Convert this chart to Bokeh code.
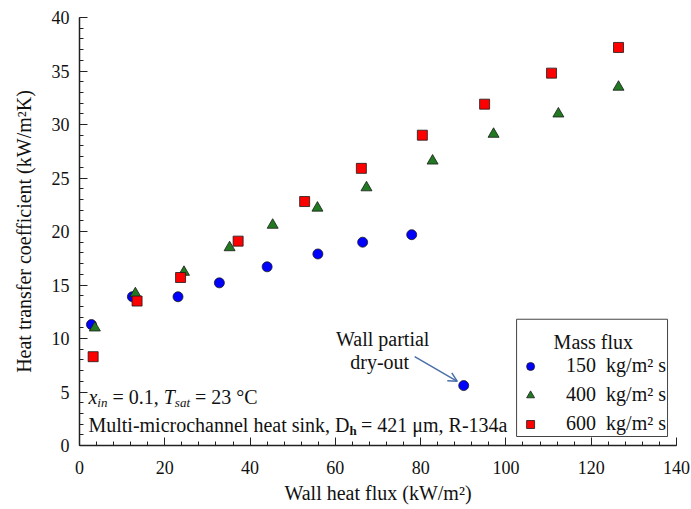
from bokeh.plotting import figure
from bokeh.models import (Range1d, FixedTicker, Label, Arrow, OpenHead,
                          BoxAnnotation, Legend, LegendItem)
from bokeh.embed import file_html
from bokeh.resources import INLINE

# ---- data ----
q150 = [2.8, 12.4, 23.1, 32.8, 44.0, 55.9, 66.4, 77.9, 90.1]
h150 = [11.3, 13.9, 13.9, 15.2, 16.7, 17.9, 19.0, 19.7, 5.6]
q400 = [3.6, 13.1, 24.5, 35.2, 45.3, 55.8, 67.3, 82.8, 97.1, 112.3, 126.4]
h400 = [11.0, 14.2, 16.2, 18.5, 20.6, 22.2, 24.1, 26.6, 29.1, 31.0, 33.5]
q600 = [3.2, 13.5, 23.7, 37.2, 52.8, 66.1, 80.4, 95.0, 110.7, 126.4]
h600 = [8.3, 13.5, 15.7, 19.1, 22.8, 25.9, 29.0, 31.9, 34.8, 37.2]
mass_flux = ["150", "400", "600"]
x_ticks = [0, 20, 40, 60, 80, 100, 120, 140]
y_ticks = [0, 5, 10, 15, 20, 25, 30, 35, 40]

FONT = "'Liberation Serif'"
NB = "\u00a0"

p = figure(width=691, height=509, output_backend="svg", toolbar_location=None,
           x_range=Range1d(0, 140), y_range=Range1d(0, 40),
           min_border_left=79, min_border_right=15, min_border_top=17,
           min_border_bottom=64)
p.outline_line_color = None
p.grid.visible = False
p.background_fill_color = "white"
p.border_fill_color = "white"

p.xaxis.ticker = FixedTicker(ticks=x_ticks, minor_ticks=[i * 4 for i in range(36)])
p.yaxis.ticker = FixedTicker(ticks=y_ticks, minor_ticks=list(range(41)))
for ax in (p.xaxis[0], p.yaxis[0]):
    ax.axis_line_color = "#222222"
    ax.axis_line_width = 1.5
    ax.major_tick_line_color = "#222222"
    ax.minor_tick_line_color = "#222222"
    ax.major_tick_in = 8
    ax.major_tick_out = 0
    ax.minor_tick_in = 4
    ax.minor_tick_out = 0
    ax.major_label_text_font = FONT
    ax.major_label_text_font_size = "18px"
    ax.major_label_text_color = "#111111"
    ax.axis_label_text_font = FONT
    ax.axis_label_text_font_size = "20px"
    ax.axis_label_text_font_style = "normal"
    ax.axis_label_text_color = "#111111"

p.xaxis.axis_label = "Wall heat flux (kW/m²)"
p.yaxis.axis_label = "Heat transfer coefficient (kW/m²K)"
p.xaxis.major_label_standoff = 15
p.xaxis.axis_label_standoff = 5
p.yaxis.major_label_standoff = 10
p.yaxis.axis_label_standoff = 14

r150 = p.scatter(q150, h150, marker="circle", size=10, fill_color="#0000ff",
                 line_color="#1a1a1a", line_width=0.8)
r400 = p.scatter(q400, h400, marker="triangle", size=11, fill_color="#217a21",
                 line_color="#1a1a1a", line_width=0.8)
r600 = p.scatter(q600, h600, marker="square", size=10, fill_color="#ff0000",
                 line_color="#1a1a1a", line_width=0.8)

# legend box + title
box = BoxAnnotation(left=102.5, right=137.9, bottom=0.84, top=11.8,
                    fill_color=None, fill_alpha=0, line_color="#444444",
                    line_width=1, line_alpha=1)
p.add_layout(box)
p.add_layout(Label(x=120.5, y=9.7, text="Mass flux", text_font=FONT,
                   text_font_size="20px", text_align="center",
                   text_baseline="alphabetic", text_color="#111111"))

items = [LegendItem(label=f"{m}{NB}{NB}kg/m²{NB}s", renderers=[r])
         for m, r in zip(mass_flux, [r150, r400, r600])]
legend = Legend(items=items, location="bottom_right", margin=10, padding=5,
                spacing=6, label_height=20, glyph_height=20, glyph_width=20,
                label_standoff=26, label_text_font=FONT,
                label_text_font_size="20px", label_text_color="#111111",
                border_line_color=None, background_fill_alpha=0)
p.add_layout(legend)

# annotation: wall partial dry-out
p.add_layout(Label(x=71.1, y=8.97, text="Wall partial", text_font=FONT,
                   text_font_size="20px", text_align="center", text_color="#111111"))
p.add_layout(Label(x=70.4, y=6.8, text="dry-out", text_font=FONT,
                   text_font_size="20px", text_align="center", text_color="#111111"))
p.add_layout(Arrow(x_start=78.6, y_start=8.3, x_end=88.6, y_end=6.0,
                   line_color="#4a70a8", line_width=1.5,
                   end=OpenHead(size=9, line_color="#4a70a8", line_width=1.5)))

# condition text with subscripts
W_REG = {' ': 250, NB: 250, '=': 564, '0': 500, '1': 500, '2': 500, '3': 500,
         '4': 500, '.': 250, ',': 250, 'C': 667, '°': 400, 'M': 889, 'u': 500,
         'l': 278, 't': 278, 'i': 278, '-': 333, 'm': 778, 'c': 444, 'r': 333,
         'h': 500, 'a': 444, 'n': 500, 'e': 444, 's': 389, 'k': 500, 'D': 722,
         'μ': 500, 'R': 667}
W_IT = {'x': 444, 'i': 278, 'n': 500, 'T': 556, 's': 389, 'a': 500, 't': 278}


def rich(x, y, pieces):
    off = 0.0
    for txt, size, style, dy in pieces:
        p.add_layout(Label(x=x, y=y, x_offset=off, y_offset=dy, text=txt,
                           text_font=FONT, text_font_size=f"{size}px",
                           text_font_style=style, text_color="#111111",
                           text_baseline="alphabetic"))
        table = W_IT if style == "italic" else W_REG
        off += sum(table.get(c, 500) for c in txt) * size / 1000.0


rich(2.1, 4.49, [("x", 20, "italic", 0), ("in", 13, "italic", -5),
                 (f"{NB}={NB}0.1,{NB}", 20, "normal", 0), ("T", 20, "italic", 0),
                 ("sat", 13, "italic", -5), (f"{NB}={NB}23{NB}°C", 20, "normal", 0)])
rich(2.1, 1.87, [("Multi-microchannel heat sink, D", 20, "normal", 0),
                 ("h", 13, "bold", -5),
                 (f"{NB}={NB}421 μm, R-134a", 20, "normal", 0)])

open("out.html", "w").write(file_html(p, INLINE))
